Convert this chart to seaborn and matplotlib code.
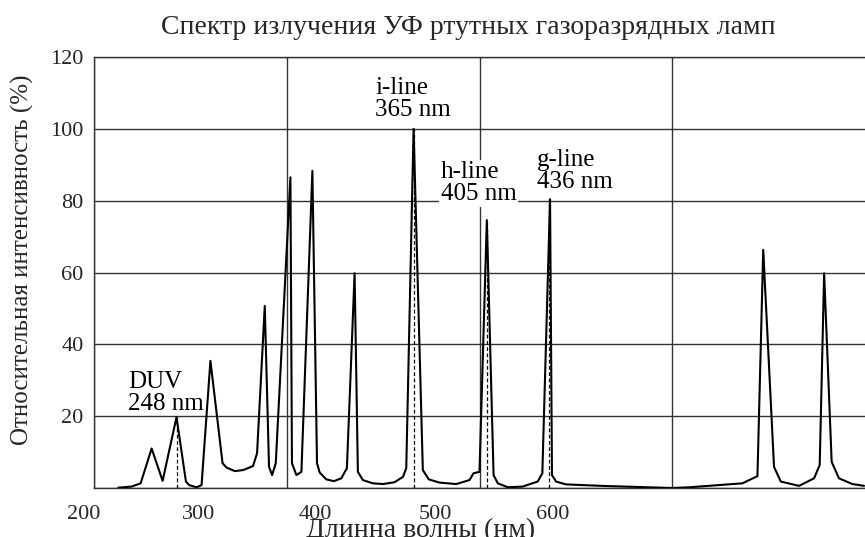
import matplotlib
matplotlib.use("Agg")
import matplotlib.pyplot as plt
import matplotlib.transforms as mtransforms
import seaborn as sns
import pandas as pd

# spectrum of a UV mercury discharge lamp
wavelength = [212.6, 219.5, 224.2, 229.9, 235.6, 242.8, 247.7, 249.4, 253.2, 255.8,
              260.4, 266.7, 268.7, 273.1, 277.4, 282.5, 284.6, 288.6, 290.8, 292.4,
              294.3, 301.9, 302.7, 305.0, 307.6, 313.3, 315.7, 317.1, 320.5, 324.5,
              328.3, 331.2, 335.2, 336.9, 339.5, 344.7, 349.9, 355.9, 360.3, 362.0,
              365.8, 370.6, 373.7, 379.3, 387.9, 394.8, 396.9, 400.0, 403.8, 407.3,
              409.5, 414.7, 422.4, 430.2, 432.6, 436.6, 437.6, 439.7, 444.9, 465.6,
              500.2, 508.8, 536.4, 544.2, 547.2, 552.8, 556.3, 565.8, 573.6, 576.5,
              578.8, 582.7, 586.5, 593.4, 599.5]
intensity = [0.1, 0.4, 1.3, 11.0, 2.0, 19.7, 1.8, 0.8, 0.2, 0.8,
             35.4, 6.9, 5.7, 4.7, 5.0, 6.1, 9.7, 50.7, 5.9, 3.6,
             6.9, 86.5, 6.9, 3.6, 4.5, 88.3, 6.9, 4.3, 2.4, 1.9,
             2.7, 5.5, 59.8, 4.5, 2.2, 1.3, 1.1, 1.6, 3.1, 5.5,
             100.0, 5.0, 2.4, 1.5, 1.1, 2.2, 4.1, 4.5, 74.6, 3.6,
             1.3, 0.2, 0.4, 1.8, 4.1, 80.4, 3.6, 1.8, 1.0, 0.55,
             0.0, 0.2, 1.3, 3.3, 66.3, 5.9, 1.8, 0.6, 2.7, 6.4,
             59.8, 7.3, 2.7, 1.1, 0.6]

# marked lines
line_wl = [243, 366, 404, 436]
line_peak = [19.7, 100, 74.6, 80.4]
line_names = ["DUV\n248 nm", "i-line\n365 nm", "h-line\n405 nm", "g-line\n436 nm"]

x_grid = [200, 300, 400, 500]
x_grid_labels = ["200", "", "", ""]
y_ticks = [0, 20, 40, 60, 80, 100, 120]
y_labels = ["", "20", "40", "60", "80", "100", "120"]
# the other tick labels do not sit on the grid lines in the original
x_label_pos = [254, 315, 377, 438]
x_labels = ["300", "400", "500", "600"]

df = pd.DataFrame({"wl": wavelength, "val": intensity})

sns.set_style("white")
plt.rcParams["font.family"] = ["Liberation Serif", "DejaVu Serif"]

fig = plt.figure(figsize=(8.65, 5.37), dpi=100)
ax = fig.add_axes([94 / 865, 1 - 488 / 537, 771 / 865, 431 / 537])

sns.lineplot(data=df, x="wl", y="val", ax=ax, color="black", linewidth=1.5, zorder=3)

for w, p in zip(line_wl, line_peak):
    ax.plot([w, w], [0, p], color="black", linestyle=(0, (3, 2)), linewidth=0.9, zorder=4)

# label positions (left, top) in data units
label_xy = [(217.5, 32.5), (346, 114.5), (380, 91), (430, 94.5)]
for (tx, ty), name in zip(label_xy, line_names):
    box = dict(facecolor="white", edgecolor="none", pad=1) if name.startswith("h") else None
    ax.text(tx, ty, name, ha="left", va="top", fontsize=18, linespacing=1.0,
            color="black", bbox=box, zorder=5)

ax.set_xticks(x_grid, x_grid_labels)
ax.set_xticks(x_label_pos, x_labels, minor=True)
ax.set_yticks(y_ticks, y_labels)
ax.set_xlim(200, 600)
ax.set_ylim(0, 120)

ax.tick_params(axis="x", which="major", length=12, width=1.0, color="#333333",
               direction="out", pad=0, labelsize=16)
ax.tick_params(axis="x", which="minor", length=0, pad=12, labelsize=16)
ax.tick_params(axis="y", length=8.5, width=1.0, color="#333333", pad=-1, labelsize=16)

# "200" sits a little left of the axis in the original
first = ax.get_xticklabels()[0]
first.set_transform(first.get_transform()
                    + mtransforms.ScaledTranslation(-0.1, 0, fig.dpi_scale_trans))

ax.grid(True, which="major", color="#333333", linewidth=1.0)
ax.grid(False, which="minor")
for side in ["left", "top", "bottom"]:
    ax.spines[side].set_color("#333333")
    ax.spines[side].set_linewidth(1.0)
ax.spines["right"].set_visible(False)

ax.set_xlabel("Длинна волны (нм)", fontsize=20)
ax.xaxis.set_label_coords(0.423, -0.07)
ax.set_ylabel("Относительная интенсивность (%)", fontsize=18)
ax.yaxis.set_label_coords(-0.078, 0.53)

fig.text(0.541, 0.948, "Спектр излучения УФ ртутных газоразрядных ламп",
         ha="center", va="center", fontsize=20)

fig.savefig("out.png", dpi=100)
